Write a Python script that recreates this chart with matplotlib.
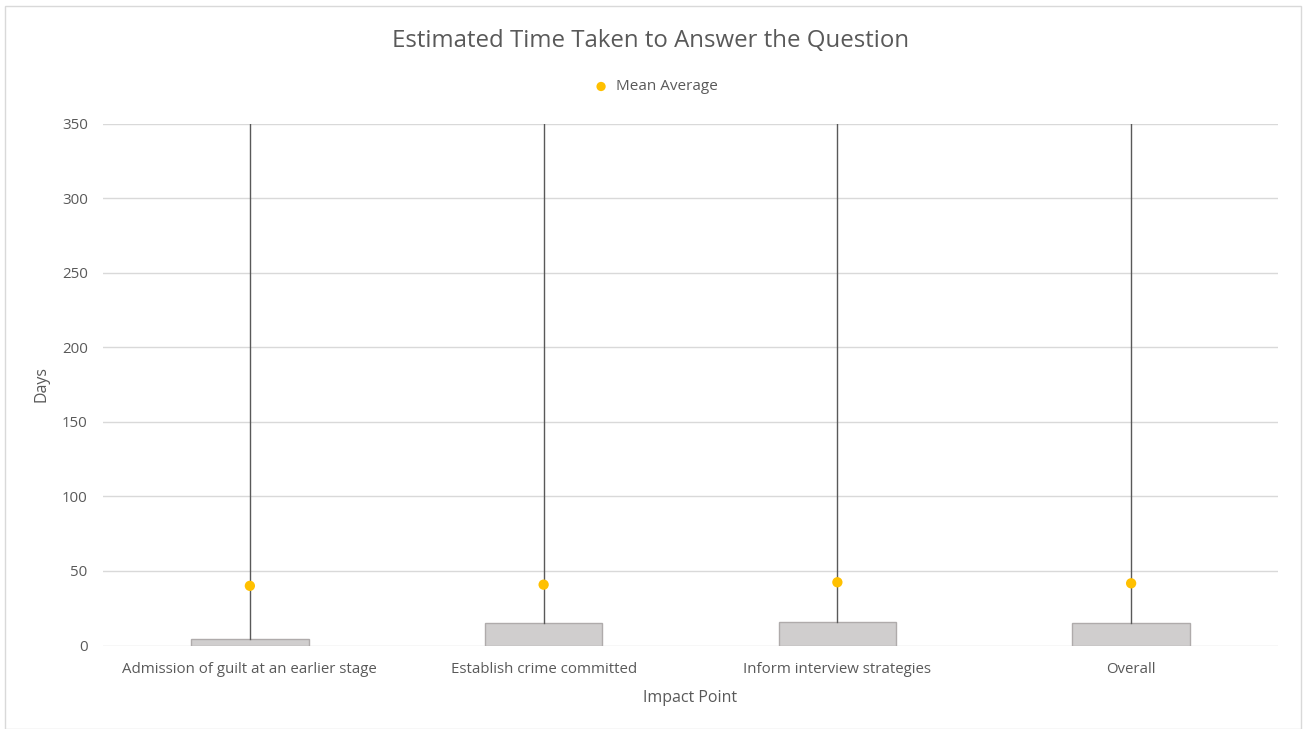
import matplotlib
matplotlib.use("Agg")
import matplotlib.pyplot as plt
from matplotlib.patches import Rectangle

categories = ["Admission of guilt at an earlier stage", "Establish crime committed",
              "Inform interview strategies", "Overall"]
q1 = [0, 0, 0, 0]
median = [0, 0, 0, 0]
q3 = [4.2, 14.9, 15.8, 14.9]
whisker_low = [0, 0, 0, 0]
whisker_high = [365, 365, 365, 365]
means = [40, 40.8, 42.4, 41.7]
yticks = [0, 50, 100, 150, 200, 250, 300, 350]

plt.rcParams['font.family'] = ['Open Sans', 'DejaVu Sans']
TXT = '#595959'

fig = plt.figure(figsize=(13.04, 7.29), dpi=100)
W, H = 1304, 729
ax = fig.add_axes([103 / W, (H - 645.5) / H, (1278 - 103) / W, (645.5 - 123.5) / H])

stats = []
for i in range(len(categories)):
    stats.append(dict(med=median[i], q1=q1[i], q3=q3[i], whislo=whisker_low[i],
                      whishi=whisker_high[i], mean=means[i], fliers=[], label=categories[i]))

ax.bxp(stats, positions=range(len(categories)), widths=0.40, patch_artist=True,
       showmeans=False, showcaps=False,
       boxprops=dict(facecolor='#d0cece', edgecolor='#afabab', linewidth=1.0),
       whiskerprops=dict(color='#595959', linewidth=1.0),
       medianprops=dict(linewidth=0),
       zorder=3)
ax.scatter(range(len(categories)), means, s=55, color='#ffc000', zorder=5,
           label='Mean Average', edgecolors='none')

ax.set_xlim(-0.5, len(categories) - 0.5)
ax.set_ylim(0, 350)
ax.set_yticks(yticks)
ax.set_xticks(range(len(categories)))
ax.set_xticklabels(categories)
ax.grid(axis='y', color='#d9d9d9', linewidth=1.0, zorder=0)
ax.set_axisbelow(True)
for s in ax.spines.values():
    s.set_visible(False)
ax.tick_params(axis='both', length=0, colors=TXT, labelsize=10.8)
ax.tick_params(axis='y', pad=11)
ax.tick_params(axis='x', pad=12)

ax.set_ylabel('Days', color=TXT, fontsize=11.5, labelpad=9)
ax.set_xlabel('Impact Point', color=TXT, fontsize=11.5, labelpad=9)

fig.text(651 / W, 1 - 41 / H, 'Estimated Time Taken to Answer the Question',
         ha='center', va='center', fontsize=17.3, color=TXT)
leg = fig.legend(loc='center', bbox_to_anchor=(652 / W, 1 - 87 / H), frameon=False,
                 fontsize=11, handletextpad=0.0, markerscale=0.9)
for t in leg.get_texts():
    t.set_color(TXT)

fig.patches.append(Rectangle((5 / W, 0), (1301 - 5) / W, (H - 6) / H,
                             transform=fig.transFigure, fill=False,
                             edgecolor='#d9d9d9', linewidth=1.0))

fig.savefig('out.png', dpi=100, facecolor='white')
